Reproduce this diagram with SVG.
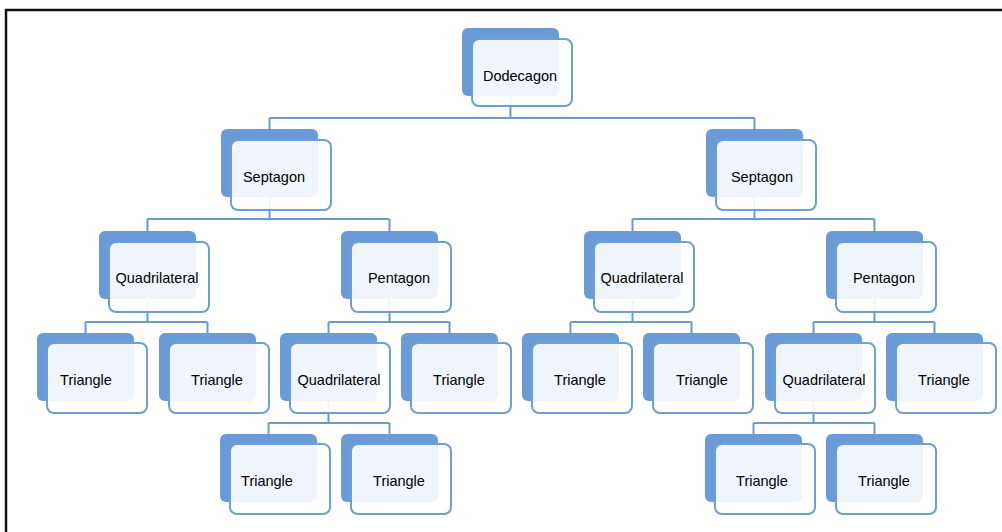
<svg xmlns="http://www.w3.org/2000/svg" width="1002" height="532" viewBox="0 0 1002 532">
<defs>
<style>
.bk{fill:#6b9bd6;}
.fr{fill:#ffffff;fill-opacity:0.9;stroke:#6d9ed6;stroke-width:2;}
.t{font-family:"Liberation Sans",Arial,sans-serif;font-size:14.5px;fill:#000000;text-anchor:middle;}
.c{fill:none;stroke:#6a9bd0;stroke-width:2;}
</style>
</defs>
<rect x="0" y="0" width="1002" height="532" fill="#ffffff"/>
<path d="M6,532 V10 H1002" fill="none" stroke="#111111" stroke-width="2.5"/>
<g id="connectors">
<path class="c" d="M510.5,96 V118 M269.5,118 H754.5 M269.5,118 V129 M754.5,118 V129"/>
<path class="c" d="M269.5,197 V219 M147.5,219 H389.5 M147.5,219 V231 M389.5,219 V231"/>
<path class="c" d="M754.5,197 V219 M632.5,219 H874.5 M632.5,219 V231 M874.5,219 V231"/>
<path class="c" d="M147.5,299 V322 M85.5,322 H207.5 M85.5,322 V333 M207.5,322 V333"/>
<path class="c" d="M389.5,299 V322 M328.5,322 H449.5 M328.5,322 V333 M449.5,322 V333"/>
<path class="c" d="M632.5,299 V322 M570.5,322 H691.5 M570.5,322 V333 M691.5,322 V333"/>
<path class="c" d="M874.5,299 V322 M813.5,322 H934.5 M813.5,322 V333 M934.5,322 V333"/>
<path class="c" d="M328.5,401 V423 M268.5,423 H389.5 M268.5,423 V434 M389.5,423 V434"/>
<path class="c" d="M813.5,401 V423 M753.5,423 H874.5 M753.5,423 V434 M874.5,423 V434"/>
</g>
<g id="n-dodecagon"><rect class="bk" x="462" y="28" width="97" height="68" rx="6"/><rect class="fr" x="472" y="39" width="100" height="67" rx="7"/><text class="t" x="520" y="81">Dodecagon</text></g>
<g id="n-septagon-l"><rect class="bk" x="221" y="129" width="97" height="68" rx="6"/><rect class="fr" x="231" y="140" width="100" height="70" rx="7"/><text class="t" x="274" y="182">Septagon</text></g>
<g id="n-septagon-r"><rect class="bk" x="706" y="129" width="97" height="68" rx="6"/><rect class="fr" x="716" y="140" width="100" height="70" rx="7"/><text class="t" x="762" y="182">Septagon</text></g>
<g id="n-quad-l"><rect class="bk" x="99" y="231" width="97" height="68" rx="6"/><rect class="fr" x="109" y="242" width="100" height="70" rx="7"/><text class="t" x="157" y="283">Quadrilateral</text></g>
<g id="n-pent-l"><rect class="bk" x="341" y="231" width="97" height="68" rx="6"/><rect class="fr" x="351" y="242" width="100" height="70" rx="7"/><text class="t" x="399" y="283">Pentagon</text></g>
<g id="n-quad-r"><rect class="bk" x="584" y="231" width="97" height="68" rx="6"/><rect class="fr" x="594" y="242" width="100" height="70" rx="7"/><text class="t" x="642" y="283">Quadrilateral</text></g>
<g id="n-pent-r"><rect class="bk" x="826" y="231" width="97" height="68" rx="6"/><rect class="fr" x="836" y="242" width="100" height="70" rx="7"/><text class="t" x="884" y="283">Pentagon</text></g>
<g id="n-tri-1"><rect class="bk" x="37" y="333" width="97" height="68" rx="6"/><rect class="fr" x="47" y="343" width="100" height="70" rx="7"/><text class="t" x="86" y="385">Triangle</text></g>
<g id="n-tri-2"><rect class="bk" x="159" y="333" width="97" height="68" rx="6"/><rect class="fr" x="169" y="343" width="100" height="70" rx="7"/><text class="t" x="217" y="385">Triangle</text></g>
<g id="n-quad-3"><rect class="bk" x="280" y="333" width="97" height="68" rx="6"/><rect class="fr" x="290" y="343" width="100" height="70" rx="7"/><text class="t" x="339" y="385">Quadrilateral</text></g>
<g id="n-tri-3"><rect class="bk" x="401" y="333" width="97" height="68" rx="6"/><rect class="fr" x="411" y="343" width="100" height="70" rx="7"/><text class="t" x="459" y="385">Triangle</text></g>
<g id="n-tri-4"><rect class="bk" x="522" y="333" width="97" height="68" rx="6"/><rect class="fr" x="532" y="343" width="100" height="70" rx="7"/><text class="t" x="580" y="385">Triangle</text></g>
<g id="n-tri-5"><rect class="bk" x="643" y="333" width="97" height="68" rx="6"/><rect class="fr" x="653" y="343" width="100" height="70" rx="7"/><text class="t" x="702" y="385">Triangle</text></g>
<g id="n-quad-4"><rect class="bk" x="765" y="333" width="97" height="68" rx="6"/><rect class="fr" x="775" y="343" width="100" height="70" rx="7"/><text class="t" x="824" y="385">Quadrilateral</text></g>
<g id="n-tri-6"><rect class="bk" x="886" y="333" width="97" height="68" rx="6"/><rect class="fr" x="896" y="343" width="100" height="70" rx="7"/><text class="t" x="944" y="385">Triangle</text></g>
<g id="n-tri-7"><rect class="bk" x="220" y="434" width="97" height="68" rx="6"/><rect class="fr" x="230" y="444" width="100" height="70" rx="7"/><text class="t" x="267" y="486">Triangle</text></g>
<g id="n-tri-8"><rect class="bk" x="341" y="434" width="97" height="68" rx="6"/><rect class="fr" x="351" y="444" width="100" height="70" rx="7"/><text class="t" x="399" y="486">Triangle</text></g>
<g id="n-tri-9"><rect class="bk" x="705" y="434" width="97" height="68" rx="6"/><rect class="fr" x="715" y="444" width="100" height="70" rx="7"/><text class="t" x="762" y="486">Triangle</text></g>
<g id="n-tri-10"><rect class="bk" x="826" y="434" width="97" height="68" rx="6"/><rect class="fr" x="836" y="444" width="100" height="70" rx="7"/><text class="t" x="884" y="486">Triangle</text></g>
</svg>
